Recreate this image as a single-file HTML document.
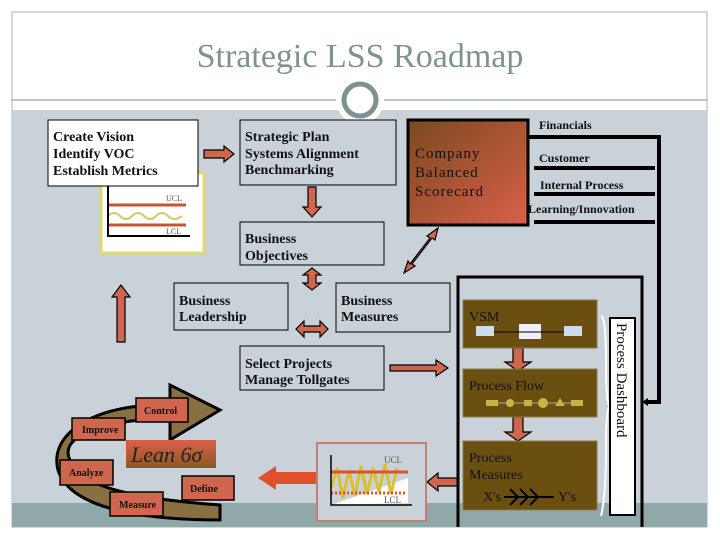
<!DOCTYPE html>
<html><head><meta charset="utf-8"><style>
html,body{margin:0;padding:0;background:#fff;}
svg{display:block;}
text{font-family:"Liberation Serif",serif;}
</style></head><body>
<svg width="720" height="540" viewBox="0 0 720 540" xmlns="http://www.w3.org/2000/svg">
<defs>
<linearGradient id="cbs" x1="0" y1="0" x2="1" y2="1"><stop offset="0" stop-color="#7a4a1e"/><stop offset="1" stop-color="#d9604a"/></linearGradient>
<linearGradient id="lean" x1="0" y1="0" x2="0" y2="1"><stop offset="0" stop-color="#d9604a"/><stop offset="1" stop-color="#8a5a20"/></linearGradient>
</defs>
<rect x="12" y="12" width="695" height="515" fill="#fff" stroke="#a8b4b6"/>
<rect x="12" y="110" width="695" height="395" fill="#c8d2d8"/>
<rect x="12" y="503" width="695" height="24" fill="#8fa9ab"/>
<text x="360" y="67" text-anchor="middle" font-size="34" fill="#7d9393">Strategic LSS Roadmap</text>
<line x1="12" y1="100" x2="707" y2="100" stroke="#7d9393" stroke-width="1"/>
<circle cx="360" cy="100" r="24" fill="#fff"/>
<circle cx="360" cy="100" r="16" fill="#fff" stroke="#7d9393" stroke-width="5"/>

<g font-weight="bold" font-size="14" fill="#111">
<rect x="101" y="173" width="103" height="80" fill="#fff" stroke="#e0d870" stroke-width="3"/>
<line x1="108" y1="205" x2="186" y2="205" stroke="#c8552f" stroke-width="3"/>
<line x1="108" y1="225" x2="186" y2="225" stroke="#c8552f" stroke-width="3"/>
<path d="M108 216 q6 -6 12 0 t12 0 t12 0 t12 0 t12 0 t14 0" fill="none" stroke="#d8c85a" stroke-width="2"/>
<path d="M108 180 V236 H190" fill="none" stroke="#000" stroke-width="2"/>
<text x="166" y="201" font-size="8" font-weight="normal" fill="#555">UCL</text>
<text x="166" y="234" font-size="8" font-weight="normal" fill="#555">LCL</text>
<rect x="48" y="120" width="150" height="66" fill="#fff" stroke="#000"/>
<text x="53" y="141">Create Vision</text><text x="53" y="158">Identify VOC</text><text x="53" y="175">Establish Metrics</text>
<rect x="240" y="120" width="156" height="65" fill="#c8d2d8" stroke="#000"/>
<text x="245" y="141">Strategic Plan</text><text x="245" y="158">Systems Alignment</text><text x="245" y="174">Benchmarking</text>
<rect x="240" y="222" width="144" height="43" fill="#c8d2d8" stroke="#000"/>
<text x="245" y="243">Business</text><text x="245" y="260">Objectives</text>
<rect x="174" y="283" width="114" height="47" fill="#c8d2d8" stroke="#000"/>
<text x="179" y="305">Business</text><text x="179" y="321">Leadership</text>
<rect x="336" y="283" width="114" height="49" fill="#c8d2d8" stroke="#000"/>
<text x="341" y="305">Business</text><text x="341" y="321">Measures</text>
<rect x="240" y="346" width="144" height="44" fill="#c8d2d8" stroke="#000"/>
<text x="245" y="368">Select Projects</text><text x="245" y="384">Manage Tollgates</text>
<rect x="408" y="120" width="120" height="105" fill="url(#cbs)" stroke="#000" stroke-width="3"/>
<g font-size="15" font-weight="normal" letter-spacing="1"><text x="415" y="158">Company</text><text x="415" y="177">Balanced</text><text x="415" y="196">Scorecard</text></g>
<g font-size="12"><text x="539" y="129">Financials</text><text x="539" y="162">Customer</text><text x="540" y="189">Internal Process</text><text x="528" y="213">Learning/Innovation</text></g>
</g>
<g stroke="#000" stroke-width="4" fill="none">
<path d="M528 137 H659 V402 H646"/>
<line x1="534" y1="168" x2="655" y2="168"/><line x1="534" y1="194" x2="655" y2="194"/><line x1="534" y1="222" x2="655" y2="222"/>
</g>
<path d="M642 402 l6 -4 v8z" fill="#000"/>

<g fill="#d0664e" stroke="#000" stroke-width="1.2">
<path d="M204 150 h20 v-4 l10 8 -10 8 v-4 h-20z"/>
<path d="M308 187 h8 v20 h5 l-9 10 -9 -10 h5z"/>
<path d="M312 268 l9 7 h-5 v8 h5 l-9 7 -9 -7 h5 v-8 h-5z"/>
<path d="M296 329 l8 -8 v5 h16 v-5 l8 8 -8 8 v-5 h-16 v5z"/>
<path d="M117 342 v-45 h-5 l9 -12 9 12 h-5 v45z"/>
<path d="M390 365 h46 v-5 l12 8 -12 8 v-5 h-46z"/>
<path d="M404 273 l4 -12 2 3 20 -26 -3 -2 11 -8 -3 12 -3 -2 -20 26 3 2z"/>
<path d="M458 478 h-20 v-5 l-11 9 11 9 v-5 h20z"/>
<path d="M513 348 h10 v14 h8 l-13 9 -13 -9 h8z"/>
<path d="M513 417 h10 v15 h8 l-13 9 -13 -9 h8z"/>
</g>
<path d="M316 472 h-40 v-6 l-18 12 18 12 v-6 h40z" fill="#e0502a"/>

<rect x="317" y="443" width="109" height="78" fill="#c8d2d8" stroke="#c87f6a" stroke-width="2"/>
<path d="M331 505 L408 478 V503z" fill="#fff"/>
<path d="M331 488 l6 -20 6 30 6 -28 6 26 6 -30 6 28 6 -26 6 24 6 -28 6 30 6 -26" fill="none" stroke="#d8c030" stroke-width="3"/>
<line x1="331" y1="472" x2="408" y2="472" stroke="#e0502a" stroke-width="3"/>
<line x1="331" y1="493" x2="407" y2="493" stroke="#e0502a" stroke-width="3" stroke-dasharray="2 2"/>
<path d="M331 455 V505 H412" fill="none" stroke="#000" stroke-width="1.5"/>
<text x="384" y="463" font-size="9" fill="#555">UCL</text><text x="384" y="503" font-size="9" fill="#555">LCL</text>

<path d="M458 527 V277 H642 V527" fill="none" stroke="#000" stroke-width="3"/>
<rect x="463" y="300" width="134" height="48" fill="#6b4f10" stroke="#8a7a50"/>
<rect x="463" y="369" width="134" height="48" fill="#6b4f10" stroke="#8a7a50"/>
<rect x="463" y="441" width="134" height="69" fill="#6b4f10" stroke="#8a7a50"/>
<g font-size="14" fill="#111"><text x="469" y="321">VSM</text><text x="469" y="390">Process Flow</text><text x="469" y="462">Process</text><text x="469" y="479">Measures</text><text x="483" y="501">X's</text><text x="558" y="501">Y's</text></g>
<rect x="476" y="326" width="18" height="10" fill="#cde" /><rect x="519" y="324" width="22" height="15" fill="#eef"/><rect x="564" y="326" width="18" height="10" fill="#cde"/>
<line x1="494" y1="332" x2="564" y2="332" stroke="#000"/>
<g fill="#c8b830"><rect x="486" y="400" width="12" height="6"/><circle cx="510" cy="403" r="4"/><rect x="524" y="400" width="8" height="6"/><circle cx="543" cy="403" r="5"/><path d="M560 398 l5 8 h-10z"/><rect x="571" y="400" width="12" height="6"/></g>
<line x1="486" y1="403" x2="583" y2="403" stroke="#aaa"/>
<path d="M504 497 h50 M510 489 l8 8 -8 8 M520 489 l8 8 -8 8 M530 489 l8 8 -8 8" fill="none" stroke="#000" stroke-width="2"/>
<path d="M601 316 q5 0 5 50 q0 40 4 40 q-4 0 -4 40 q0 50 -5 70" fill="none" stroke="#fff" stroke-width="2"/>
<rect x="610" y="318" width="25" height="197" fill="#fff" stroke="#000" stroke-width="2"/>
<text transform="translate(617,323) rotate(90)" font-size="15" fill="#111">Process Dashboard</text>

<path d="M140 420 C90 425 60 440 70 460 C80 490 150 500 220 505 L220 520 C140 520 70 508 58 470 C50 440 80 410 150 405 L170 402 L170 385 L220 410 L170 440 L170 420z" fill="#8a7040" stroke="#000" stroke-width="3"/>
<rect x="126" y="440" width="90" height="28" fill="url(#lean)"/>
<text x="131" y="462" font-size="22" font-style="italic" fill="#222">Lean 6σ</text>
<g font-size="10" font-weight="bold" fill="#111">
<rect x="136" y="398" width="52" height="24" fill="#d0664e" stroke="#000" stroke-width="1.5"/><text x="144" y="414">Control</text>
<rect x="72" y="418" width="53" height="22" fill="#d0664e" stroke="#000" stroke-width="1.5"/><text x="82" y="433">Improve</text>
<rect x="60" y="460" width="53" height="25" fill="#d0664e" stroke="#000" stroke-width="1.5"/><text x="69" y="476">Analyze</text>
<rect x="110" y="492" width="53" height="24" fill="#d0664e" stroke="#000" stroke-width="1.5"/><text x="119" y="508">Measure</text>
<rect x="182" y="476" width="52" height="24" fill="#d0664e" stroke="#000" stroke-width="1.5"/><text x="190" y="492">Define</text>
</g>
</svg>
</body></html>
